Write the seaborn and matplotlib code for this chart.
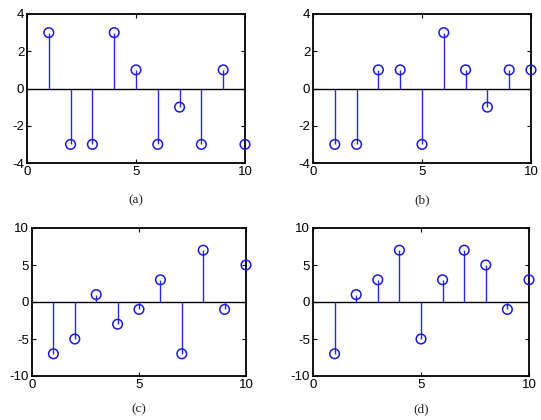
import numpy as np
import pandas as pd
import matplotlib
matplotlib.use('Agg')
import matplotlib.pyplot as plt
import seaborn as sns

# dados das quatro sequências
n = [1, 2, 3, 4, 5, 6, 7, 8, 9, 10]
seq_a = [3, -3, -3, 3, 1, -3, -1, -3, 1, -3]
seq_b = [-3, -3, 1, 1, -3, 3, 1, -1, 1, 1]
seq_c = [-7, -5, 1, -3, -1, 3, -7, 7, -1, 5]
seq_d = [-7, 1, 3, 7, -5, 3, 7, 5, -1, 3]
legendas = ['(a)', '(b)', '(c)', '(d)']

sns.set_style('ticks')
plt.rcParams['font.family'] = ['Liberation Sans', 'DejaVu Sans']
plt.rcParams['axes.unicode_minus'] = False

fig = plt.figure(figsize=(5.41, 4.2), dpi=100)
W, H = 541, 420
# caixas dos eixos em pixels: (esq, topo, dir, base)
caixas = [(27, 14, 245, 163), (313, 14, 531, 163),
          (32, 228, 246, 376), (313, 228, 529, 376)]
pos_legenda = [200, 200, 409, 409]
series = [seq_a, seq_b, seq_c, seq_d]
limites = [(-4, 4, [-4, -2, 0, 2, 4]), (-4, 4, [-4, -2, 0, 2, 4]),
           (-10, 10, [-10, -5, 0, 5, 10]), (-10, 10, [-10, -5, 0, 5, 10])]

azul = '#2a2ad8'
for (l, t, r, b), y, (ymin, ymax, yt), leg, py in zip(caixas, series, limites, legendas, pos_legenda):
    ax = fig.add_axes([l / W, 1 - b / H, (r - l) / W, (b - t) / H])
    df = pd.DataFrame({'n': n, 'x': y})
    ax.axhline(0, color='black', lw=1.0, zorder=1)
    ax.vlines(df['n'], 0, df['x'], color=azul, lw=1.0, zorder=2)
    sns.scatterplot(data=df, x='n', y='x', ax=ax, marker='o', s=48,
                    facecolors='none', edgecolor='#1a1ae0', linewidth=1.1,
                    zorder=3, clip_on=False)
    ax.set_xlim(0, 10)
    ax.set_ylim(ymin, ymax)
    ax.set_xticks([0, 5, 10])
    ax.set_yticks(yt)
    ax.tick_params(direction='in', top=True, right=True, length=3,
                   labelsize=9.5, pad=2, width=0.8, colors='black')
    for s in ax.spines.values():
        s.set_linewidth(1.3)
        s.set_color('black')
    ax.set_xlabel('')
    ax.set_ylabel('')
    fig.text((l + r) / 2 / W, 1 - py / H, leg, ha='center', va='center',
             fontsize=9.5, family=['Liberation Serif', 'DejaVu Serif'])

fig.savefig('out.png', dpi=100)
